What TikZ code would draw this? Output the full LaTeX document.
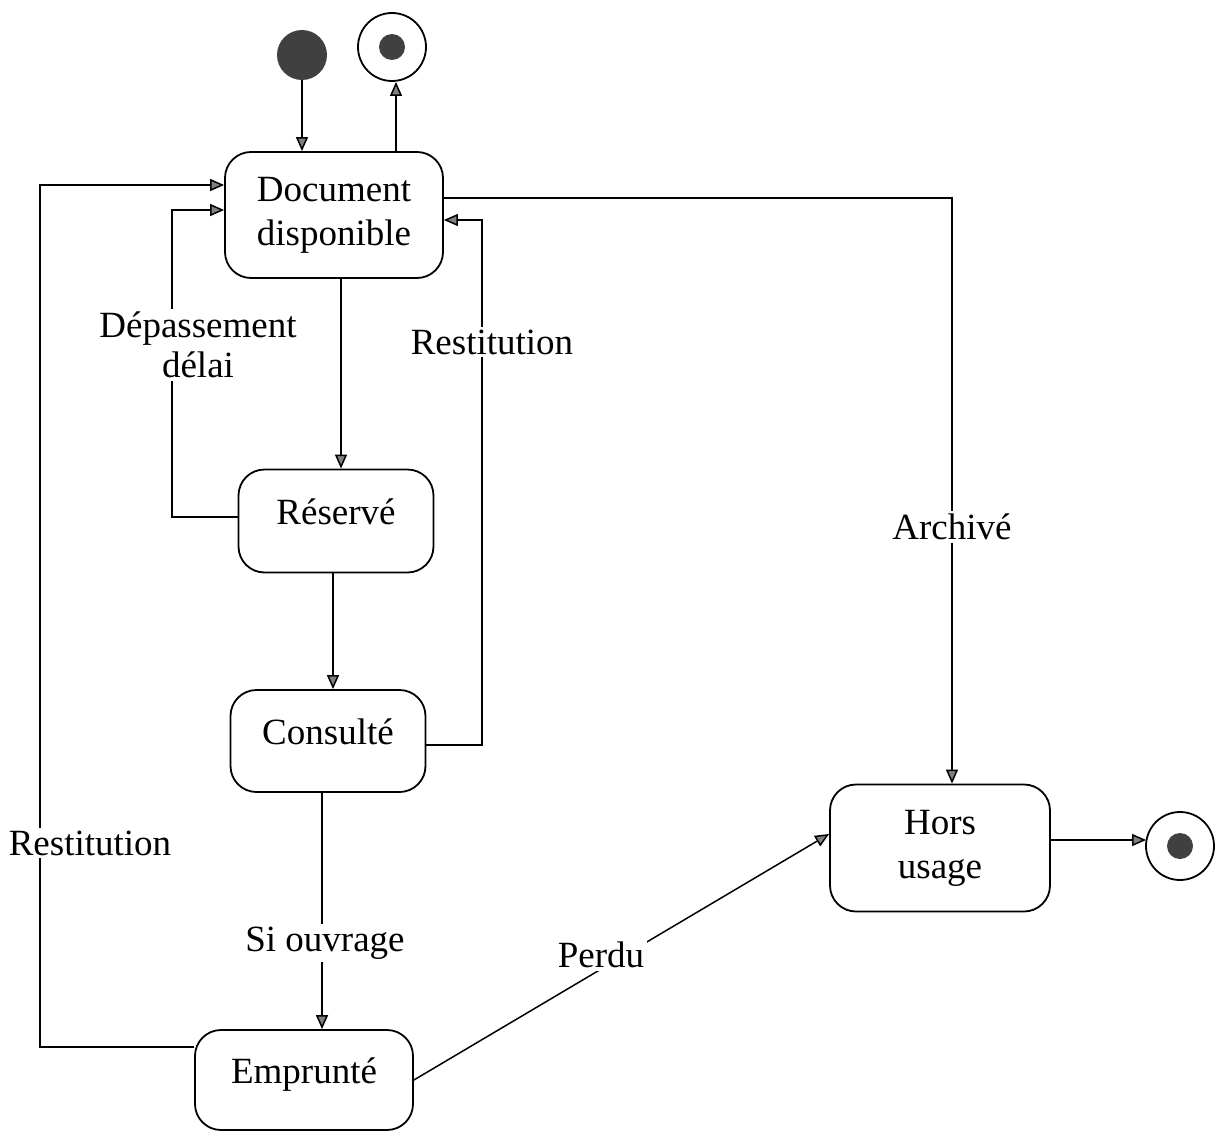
\documentclass[tikz,border=0pt]{standalone}
\usepackage{fontspec}
\newfontfamily\serf{Liberation Serif}
\usetikzlibrary{arrows.meta,calc}
\begin{document}
\begin{tikzpicture}[x=1pt,y=-1pt,
  every node/.style={font=\serf\fontsize{37}{44}\selectfont},
  statebox/.style={draw,line width=1.8pt,rounded corners=26pt,align=center,inner sep=0pt},
  onel/.style={text height=25pt,text depth=18pt},
  arr/.style={line width=1.5pt,-{Triangle[length=14pt,width=12pt,fill=gray]}},
  lab/.style={fill=white,inner sep=3pt,align=center},
  initst/.style={circle,fill=darkgray,minimum size=50pt,inner sep=0pt},
  finalst/.style={circle,draw,line width=1.8pt,minimum size=68pt,inner sep=0pt,
    path picture={\fill[darkgray] (path picture bounding box.center) circle (13pt);}}]
\useasboundingbox (0,0) rectangle (1216,1132);

% states
\node[initst] (init) at (302,55) {};
\node[finalst] (fin1) at (392,47) {};
\node[statebox,minimum width=218pt,minimum height=126pt] (doc) at (334,215) {Document\\disponible};
\node[statebox,onel,minimum width=195pt,minimum height=103pt] (res) at (336,521) {Réservé};
\node[statebox,onel,minimum width=195pt,minimum height=102pt] (con) at (328,741) {Consulté};
\node[statebox,onel,minimum width=218pt,minimum height=100pt] (emp) at (304,1080) {Emprunté};
\node[statebox,minimum width=220pt,minimum height=127pt] (hors) at (940,848) {Hors\\usage};
\node[finalst] (fin2) at (1180,846) {};

% helper coordinates
\coordinate (Xf) at (396,0);
\coordinate (V) at (341,0);
\coordinate (W) at (333,0);
\coordinate (S) at (322,0);
\coordinate (L1) at (40,1047);
\coordinate (L2) at (40,185);
\coordinate (D1) at (172,517);
\coordinate (D2) at (172,210);
\coordinate (R1) at (482,745);
\coordinate (R2) at (482,220);
\coordinate (A1) at (952,198);
\coordinate (H) at (0,840);

% transitions
\draw[arr] (init) -- (doc.north -| init);
\draw[arr] (doc.north -| Xf) -- (fin1.south -| Xf);
\draw[arr] (doc.south -| V) -- (res.north -| V);
\draw[arr] (res.south -| W) -- (con.north -| W);
\draw[arr] (con.south -| S) -- (emp.north -| S);
\draw[arr] (emp.west |- L1) -- (L1) -- (L2) -- (doc.west |- L2);
\draw[arr] (res.west |- D1) -- (D1) -- (D2) -- (doc.west |- D2);
\draw[arr] (con.east |- R1) -- (R1) -- (R2) -- (doc.east |- R2);
\draw[arr] (doc.east |- A1) -- (A1) -- (hors.north -| A1);
\draw[arr] (emp.east) -- ([yshift=14pt]hors.west);
\draw[arr] (hors.east |- H) -- ([xshift=1pt]fin2.west |- H);

% labels
\node[lab] (lrest1) at (90,843) {Restitution};
\node[lab] (ldep) at (198,345) {Dépassement\\[-4pt]délai};
\node[lab] (lrest2) at (492,342) {Restitution};
\node[lab] (larch) at (952,527) {Archivé};
\node[lab] (lsi) at (325,943) {Si ouvrage};
\node[lab] (lperdu) at (601,955) {Perdu};
\end{tikzpicture}
\end{document}
